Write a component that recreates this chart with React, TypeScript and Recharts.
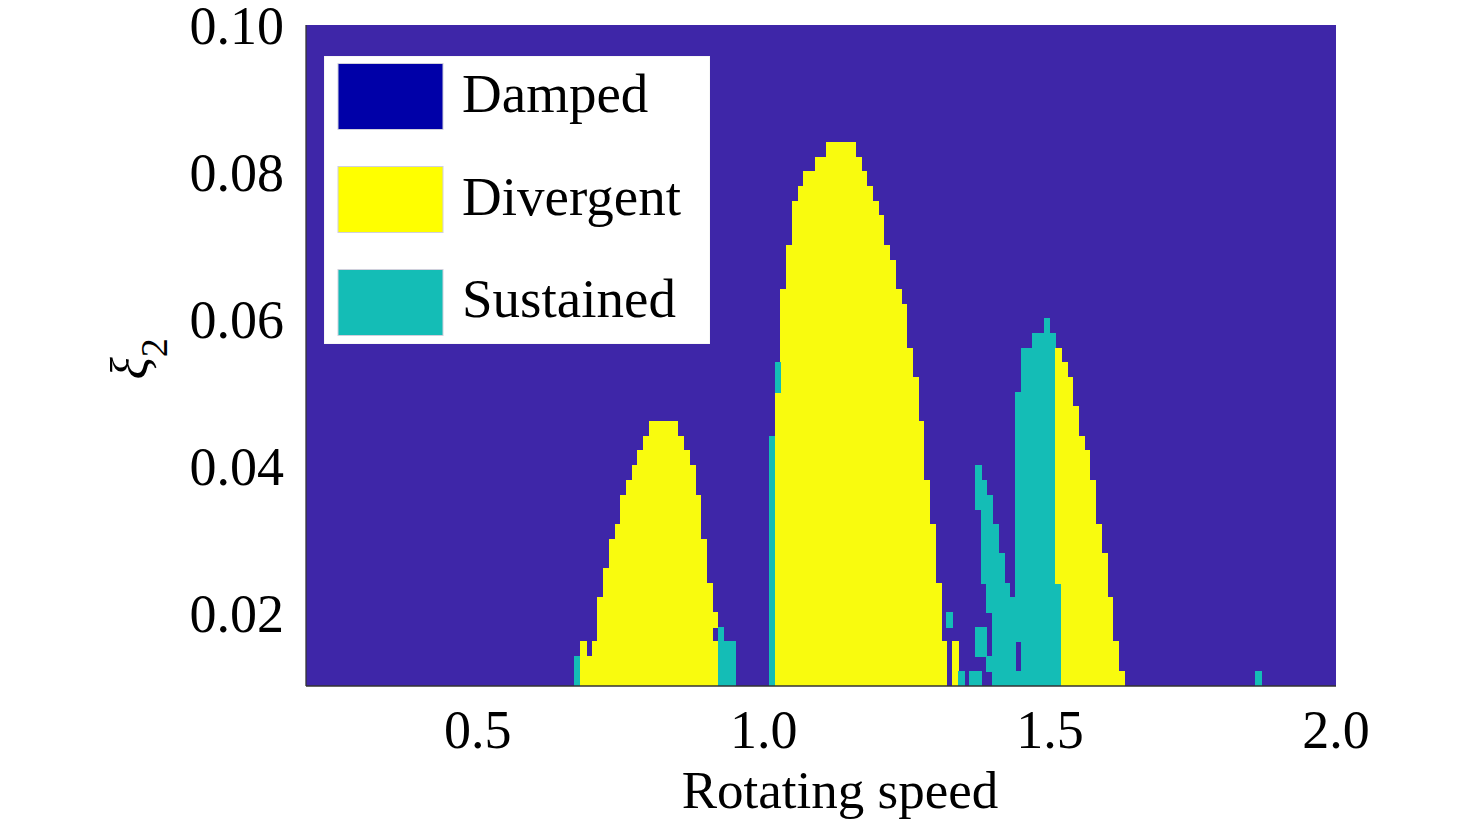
import React from 'react';
import { ComposedChart, Bar, Cell, XAxis, YAxis, CartesianGrid, Legend } from 'recharts';

const DAMPED_FILL = '#3E26A8';
const DIVERGENT_FILL = '#F9FB0E';
const SUSTAINED_FILL = '#14BDB6';
const FONT = '"Liberation Serif", "Times New Roman", serif';

// [rotating speed (column start), xi_2 from, xi_2 to]
type Run = [number, number, number];

const divergentRuns: Run[] = [
  [0.68, 0.010, 0.016], [0.69, 0.010, 0.014], [0.70, 0.010, 0.016], [0.71, 0.010, 0.022],
  [0.72, 0.010, 0.026], [0.73, 0.010, 0.030], [0.74, 0.010, 0.032], [0.75, 0.010, 0.036],
  [0.76, 0.010, 0.038], [0.77, 0.010, 0.040], [0.78, 0.010, 0.042], [0.79, 0.010, 0.044],
  [0.80, 0.010, 0.046], [0.81, 0.010, 0.046], [0.82, 0.010, 0.046], [0.83, 0.010, 0.046],
  [0.84, 0.010, 0.046], [0.85, 0.010, 0.044], [0.86, 0.010, 0.042], [0.87, 0.010, 0.040],
  [0.88, 0.010, 0.036], [0.89, 0.010, 0.030], [0.90, 0.010, 0.024], [0.91, 0.010, 0.016],
  [0.91, 0.018, 0.020],
  [1.02, 0.010, 0.050], [1.03, 0.010, 0.064], [1.04, 0.010, 0.070], [1.05, 0.010, 0.076],
  [1.06, 0.010, 0.078], [1.07, 0.010, 0.080], [1.08, 0.010, 0.080], [1.09, 0.010, 0.082],
  [1.10, 0.010, 0.082], [1.11, 0.010, 0.084], [1.12, 0.010, 0.084], [1.13, 0.010, 0.084],
  [1.14, 0.010, 0.084], [1.15, 0.010, 0.084], [1.16, 0.010, 0.082], [1.17, 0.010, 0.080],
  [1.18, 0.010, 0.078], [1.19, 0.010, 0.076], [1.20, 0.010, 0.074], [1.21, 0.010, 0.070],
  [1.22, 0.010, 0.068], [1.23, 0.010, 0.064], [1.24, 0.010, 0.062], [1.25, 0.010, 0.056],
  [1.26, 0.010, 0.052], [1.27, 0.010, 0.046], [1.28, 0.010, 0.038], [1.29, 0.010, 0.032],
  [1.30, 0.010, 0.024], [1.31, 0.010, 0.016], [1.33, 0.010, 0.016],
  [1.51, 0.024, 0.056], [1.52, 0.010, 0.054], [1.53, 0.010, 0.052], [1.54, 0.010, 0.048],
  [1.55, 0.010, 0.044], [1.56, 0.010, 0.042], [1.57, 0.010, 0.038], [1.58, 0.010, 0.032],
  [1.59, 0.010, 0.028], [1.60, 0.010, 0.022], [1.61, 0.010, 0.016], [1.62, 0.010, 0.012],
];

const sustainedRuns: Run[] = [
  [0.67, 0.010, 0.014], [0.92, 0.010, 0.018], [0.93, 0.010, 0.016], [0.94, 0.010, 0.016],
  [1.01, 0.010, 0.044], [1.02, 0.050, 0.054], [1.32, 0.018, 0.020], [1.34, 0.010, 0.012],
  [1.36, 0.010, 0.012],
  [1.37, 0.010, 0.012], [1.37, 0.014, 0.018], [1.37, 0.034, 0.040],
  [1.38, 0.014, 0.018], [1.38, 0.024, 0.038],
  [1.39, 0.012, 0.014], [1.39, 0.020, 0.036],
  [1.40, 0.010, 0.032], [1.41, 0.010, 0.028], [1.42, 0.010, 0.024], [1.43, 0.010, 0.022],
  [1.44, 0.010, 0.012], [1.44, 0.016, 0.050],
  [1.45, 0.010, 0.056], [1.46, 0.010, 0.056], [1.47, 0.010, 0.058], [1.48, 0.010, 0.058],
  [1.49, 0.010, 0.060], [1.50, 0.010, 0.058], [1.51, 0.010, 0.024],
  [1.86, 0.010, 0.012],
];

const xTicks = [0.5, 1.0, 1.5, 2.0];
const yTicks = [0.02, 0.04, 0.06, 0.08, 0.10];
const legendLabels = ['Damped', 'Divergent', 'Sustained'];
const legendColors = ['#0000A8', '#FFFF00', '#14BDB6'];

// every column is a stack: transparent gap, coloured run, gap, run ...
const allRuns = [
  ...divergentRuns.map(([x, lo, hi]) => ({ x, lo, hi, fill: DIVERGENT_FILL })),
  ...sustainedRuns.map(([x, lo, hi]) => ({ x, lo, hi, fill: SUSTAINED_FILL })),
];
const speeds = Array.from(new Set(allRuns.map(r => r.x))).sort((a, b) => a - b);
const columns = speeds.map(x => {
  const runs = allRuns.filter(r => r.x === x).sort((a, b) => a.lo - b.lo);
  const segs: { h: number; fill: string }[] = [];
  let top = 0;
  runs.forEach(r => {
    segs.push({ h: r.lo - top, fill: 'transparent' });
    segs.push({ h: r.hi - r.lo, fill: r.fill });
    top = r.hi;
  });
  return { x, segs };
});
const segCount = Math.max(...columns.map(c => c.segs.length));
const segKeys = Array.from({ length: segCount }, (_, i) => `s${i}`);
const data = columns.map(c => {
  const row: Record<string, number> = { speed: c.x + 0.005 };
  segKeys.forEach((k, i) => { row[k] = c.segs[i] ? c.segs[i].h : 0; });
  return row;
});

const renderLegend = () => (
  <svg width={386} height={288}>
    <rect x={0} y={0} width={386} height={288} fill="#ffffff" stroke="#eeeeee" />
    {legendLabels.map((name, i) => (
      <g key={name}>
        <rect x={14} y={7.5 + i * 103} width={105} height={66} fill={legendColors[i]} stroke="#d0d0dc" strokeWidth={1} />
        <text x={138} y={56 + i * 102.5} fontFamily={FONT} fontSize={55} fill="#000">{name}</text>
      </g>
    ))}
  </svg>
);

const renderYLabel = (props: any) => {
  const { x, y, height } = props.viewBox;
  const cx = x + 41;
  const cy = y + height / 2 + 24;
  return (
    <text transform={`translate(${cx},${cy}) rotate(-90)`} fontFamily={FONT} fill="#000">
      <tspan fontSize={52} fontStyle="italic">ξ</tspan>
      <tspan fontSize={38} dy={20}>2</tspan>
    </text>
  );
};

const renderXLabel = (props: any) => {
  const { x, y, width } = props.viewBox;
  return (
    <text x={x + width / 2 + 19} y={y + 122} textAnchor="middle" fontFamily={FONT} fontSize={53} fill="#000">
      Rotating speed
    </text>
  );
};

const tickStyle = { fill: '#000', fontSize: 54, fontFamily: FONT };

export default function App() {
  return (
    <div style={{ width: 1476, height: 827, margin: '-8px 0 0 -8px' }}>
      <ComposedChart
        width={1476}
        height={827}
        data={data}
        barCategoryGap={0}
        barGap={0}
        margin={{ top: 25, right: 140, left: 106, bottom: 0 }}
      >
        <CartesianGrid fill={DAMPED_FILL} horizontal={false} vertical={false} stroke="none" />
        <XAxis
          type="number"
          dataKey="speed"
          domain={[0.2, 2.0]}
          ticks={xTicks}
          interval={0}
          tickFormatter={(v: number) => v.toFixed(1)}
          tick={tickStyle}
          tickLine={false}
          tickSize={0}
          tickMargin={24}
          height={141}
          axisLine={{ stroke: '#333333', strokeWidth: 1.3 }}
          label={{ content: renderXLabel }}
        />
        <YAxis
          type="number"
          domain={[0.01, 0.1]}
          allowDataOverflow
          ticks={yTicks}
          interval={0}
          tickFormatter={(v: number) => v.toFixed(2)}
          tick={tickStyle}
          tickLine={false}
          tickSize={0}
          tickMargin={22}
          width={200}
          axisLine={{ stroke: '#333333', strokeWidth: 1.3 }}
          label={{ content: renderYLabel }}
        />
        {segKeys.map((k, i) => (
          <Bar key={k} dataKey={k} stackId="map" barSize={5.7} isAnimationActive={false} shapeRendering="crispEdges">
            {columns.map(c => {
              const fill = c.segs[i] ? c.segs[i].fill : 'transparent';
              return (
                <Cell
                  key={`${k}-${c.x}`}
                  fill={fill}
                  stroke={fill === 'transparent' ? 'none' : fill}
                  strokeWidth={1}
                />
              );
            })}
          </Bar>
        ))}
        <Legend
          layout="horizontal"
          verticalAlign="middle"
          align="center"
          content={renderLegend}
          wrapperStyle={{ position: 'absolute', left: 324, top: 56, width: 386, height: 288, margin: 0, padding: 0 }}
        />
      </ComposedChart>
    </div>
  );
}
